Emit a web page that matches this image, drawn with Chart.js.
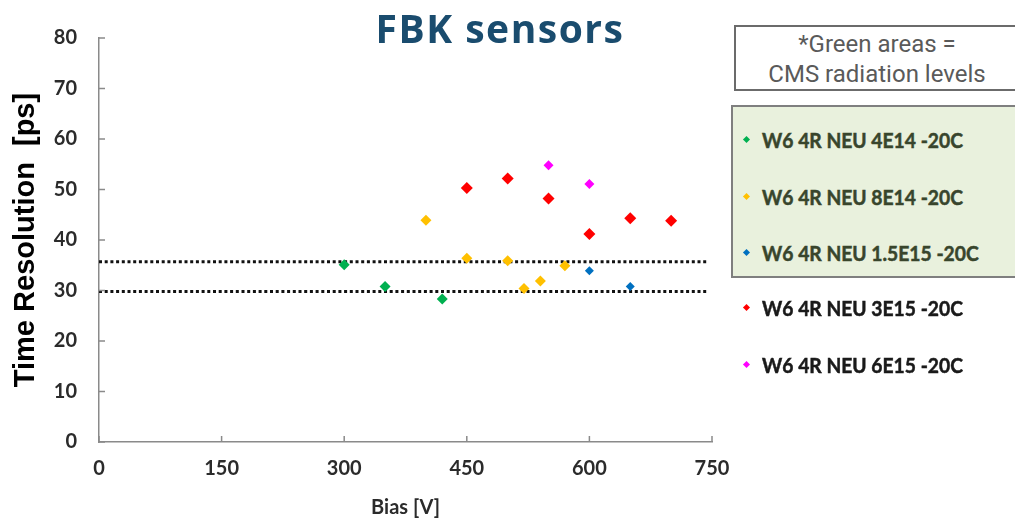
<!DOCTYPE html>
<html><head><meta charset="utf-8">
<script src="https://cdn.jsdelivr.net/npm/chart.js@4/dist/chart.umd.min.js"></script>
<style>
html,body{margin:0;padding:0;background:#fff;}
#wrap{position:relative;width:1015px;height:520px;overflow:hidden;background:#fff;}
#c{position:absolute;left:0;top:0;}
#title{position:absolute;left:0;width:1000px;top:1px;text-align:center;font:bold 39px "Open Sans";letter-spacing:1.5px;color:#1a4c6e;white-space:nowrap;}
#note{position:absolute;left:734px;top:25px;width:286px;height:66px;box-sizing:border-box;border:2px solid #6b6b6b;background:#fff;
  font:24px Roboto;color:#5a5a5a;text-align:center;line-height:30px;padding-top:2px;}
#gbox{position:absolute;left:731px;top:105px;width:300px;height:173px;box-sizing:border-box;border:2px solid #7f7f7f;background:#e9f1dd;}
.ent{position:absolute;left:744px;height:26px;line-height:26px;white-space:nowrap;font:bold 21px Lato;color:#1a1a1a;}
.ent i{position:absolute;left:0;top:10px;width:5px;height:5px;transform:rotate(45deg);}
.ent span{position:absolute;left:18px;top:0;transform-origin:0 50%;-webkit-text-stroke:0.5px currentColor;}
.ing{color:#38452c;}
</style></head>
<body><div id="wrap">
<canvas id="c" width="1015" height="520"></canvas>
<div id="title">FBK sensors</div>
<div id="note">*Green areas =<br>CMS radiation levels</div>
<div id="gbox"></div>
<div id="legend"></div>
</div>
<script>
// ---- data ----
const xTickValues = [0, 150, 300, 450, 600, 750];
const yTickValues = [0, 10, 20, 30, 40, 50, 60, 70, 80];

const seriesNames = [
  "W6 4R NEU 4E14 -20C",
  "W6 4R NEU 8E14 -20C",
  "W6 4R NEU 1.5E15 -20C",
  "W6 4R NEU 3E15 -20C",
  "W6 4R NEU 6E15 -20C"
];
const seriesColors = ["#00b050", "#ffc000", "#0070c0", "#ff0000", "#ff00ff"];

const bias4E14 = [300, 350, 420];
const res4E14  = [35.1, 30.8, 28.3];

const bias8E14 = [400, 450, 500, 520, 540, 570];
const res8E14  = [43.9, 36.4, 35.9, 30.4, 31.9, 34.9];

const bias15E15 = [600, 650];
const res15E15  = [33.9, 30.8];

const bias3E15 = [450, 500, 550, 600, 650, 700];
const res3E15  = [50.3, 52.2, 48.2, 41.2, 44.3, 43.8];

const bias6E15 = [550, 600];
const res6E15  = [54.8, 51.1];

const refLineValues = [35.7, 29.8];
const refLineRange = [0, 745];

// ---- build chart ----
const biasSets = [bias4E14, bias8E14, bias15E15, bias3E15, bias6E15];
const resSets  = [res4E14, res8E14, res15E15, res3E15, res6E15];
const radii = [5.5, 5.5, 4.5, 6, 5];

const datasets = [];
biasSets.forEach((bs, k) => {
  datasets.push({
    type: 'scatter',
    label: seriesNames[k],
    data: bs.map((b, i) => ({x: b, y: resSets[k][i]})),
    pointStyle: 'rectRot',
    pointRadius: radii[k],
    pointBackgroundColor: seriesColors[k],
    pointBorderColor: seriesColors[k],
    pointBorderWidth: 0,
    order: 1
  });
});
refLineValues.forEach(v => {
  datasets.push({
    type: 'line',
    label: 'ref',
    data: refLineRange.map(x => ({x: x, y: v})),
    showLine: true,
    borderColor: '#111',
    borderWidth: 3,
    borderDash: [3, 2.7],
    borderCapStyle: 'butt',
    pointRadius: 0,
    fill: false,
    order: 10
  });
});

const innerTicks = {
  id: 'innerTicks',
  afterDraw(chart) {
    const {ctx, scales: {x, y}} = chart;
    ctx.save();
    ctx.strokeStyle = '#8a8a8a';
    ctx.lineWidth = 1.5;
    ctx.beginPath();
    xTickValues.forEach(v => {
      const px = x.getPixelForValue(v);
      ctx.moveTo(px, y.bottom); ctx.lineTo(px, y.bottom - 6);
    });
    yTickValues.forEach(v => {
      const py = y.getPixelForValue(v);
      ctx.moveTo(x.left, py); ctx.lineTo(x.left + 6, py);
    });
    ctx.stroke();
    ctx.restore();
  }
};

new Chart(document.getElementById('c'), {
  type: 'scatter',
  data: {datasets},
  options: {
    responsive: false,
    animation: false,
    layout: {padding: {left: 0, top: 38, right: 303, bottom: 0}},
    plugins: {legend: {display: false}, tooltip: {enabled: false}, title: {display: false}},
    scales: {
      x: {
        type: 'linear', min: 0, max: 750,
        afterBuildTicks: s => { s.ticks = xTickValues.map(v => ({value: v})); },
        grid: {display: false, drawTicks: false},
        border: {display: true, color: '#8a8a8a', width: 1.5},
        ticks: {color: '#2b2b2b', font: {family: 'Lato', weight: 'bold', size: 20}, padding: 15, maxRotation: 0},
        title: {display: true, text: 'Bias [V]', color: '#2b2b2b', font: {family: 'Lato', weight: 'bold', size: 20}, padding: {top: 0, bottom: 0}},
        afterFit: s => { s.height = 78; }
      },
      y: {
        type: 'linear', min: 0, max: 80,
        afterBuildTicks: s => { s.ticks = yTickValues.map(v => ({value: v})); },
        grid: {display: false, drawTicks: false},
        border: {display: true, color: '#8a8a8a', width: 1.5},
        ticks: {color: '#2b2b2b', font: {family: 'Lato', weight: 'bold', size: 20}, padding: 22},
        title: {display: true, text: 'Time Resolution  [ps]', color: '#000', font: {family: 'Liberation Sans', weight: 'bold', size: 29}, padding: {top: 9, bottom: 0}},
        afterFit: s => { s.width = 99; }
      }
    }
  },
  plugins: [innerTicks]
});

// ---- legend (HTML text) ----
const legendYs = [140, 197, 253, 308, 365];
const legendWidth1 = 201; // width of the first entry's text in the reference
const lg = document.getElementById('legend');
const mctx = document.createElement('canvas').getContext('2d');
mctx.font = 'bold 21px Lato';
const scaleX = legendWidth1 / mctx.measureText(seriesNames[0]).width;
seriesNames.forEach((n, k) => {
  const d = document.createElement('div');
  d.className = 'ent' + (k < 3 ? ' ing' : '');
  d.style.top = (legendYs[k] - 13) + 'px';
  const i = document.createElement('i');
  i.style.background = seriesColors[k];
  const s = document.createElement('span');
  s.textContent = n;
  s.style.transform = 'scaleX(' + scaleX.toFixed(3) + ')';
  d.appendChild(i); d.appendChild(s);
  lg.appendChild(d);
});
</script>
</body></html>
